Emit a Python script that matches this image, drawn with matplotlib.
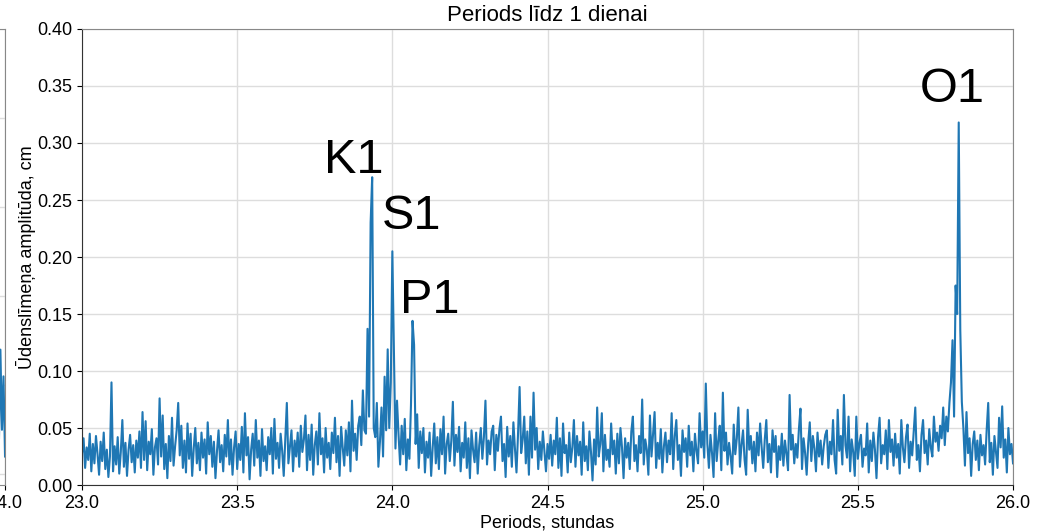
import numpy as np
import matplotlib.pyplot as plt
from matplotlib.ticker import FormatStrFormatter

plt.rcParams['font.family'] = ['Liberation Sans', 'DejaVu Sans']

# amplitūdu spektrs, solis 0.005 h no 23.0 h
amp = [
    0.028, 0.041, 0.015, 0.033, 0.022, 0.045, 0.012, 0.036, 0.019, 0.043, 0.027, 0.009, 0.038, 0.021, 0.046, 0.014, 0.031, 0.007, 0.025, 0.090,
    0.012, 0.034, 0.018, 0.042, 0.010, 0.029, 0.057, 0.016, 0.037, 0.008, 0.031, 0.044, 0.020, 0.035, 0.011, 0.039, 0.024, 0.047, 0.015, 0.064,
    0.022, 0.056, 0.013, 0.038, 0.027, 0.049, 0.009, 0.033, 0.041, 0.018, 0.076, 0.025, 0.061, 0.014, 0.036, 0.006, 0.043, 0.021, 0.059, 0.017,
    0.034, 0.048, 0.072, 0.026, 0.052, 0.015, 0.039, 0.011, 0.054, 0.023, 0.045, 0.008, 0.032, 0.050, 0.019, 0.037, 0.013, 0.046, 0.024, 0.040,
    0.010, 0.055, 0.027, 0.043, 0.016, 0.038, 0.006, 0.030, 0.048, 0.020, 0.035, 0.012, 0.044, 0.025, 0.057, 0.018, 0.040, 0.009, 0.033, 0.047,
    0.014, 0.036, 0.022, 0.051, 0.011, 0.063, 0.026, 0.042, 0.005, 0.031, 0.045, 0.017, 0.057, 0.024, 0.039, 0.008, 0.049, 0.021, 0.034, 0.013,
    0.042, 0.027, 0.050, 0.010, 0.058, 0.023, 0.037, 0.015, 0.045, 0.030, 0.008, 0.041, 0.072, 0.019, 0.034, 0.048, 0.012, 0.039, 0.025, 0.046,
    0.016, 0.052, 0.029, 0.040, 0.061, 0.013, 0.044, 0.022, 0.053, 0.009, 0.035, 0.047, 0.018, 0.063, 0.027, 0.041, 0.011, 0.050, 0.024, 0.037,
    0.014, 0.046, 0.028, 0.059, 0.020, 0.043, 0.008, 0.051, 0.033, 0.017, 0.048, 0.026, 0.055, 0.012, 0.074, 0.030, 0.045, 0.022, 0.052, 0.060,
    0.035, 0.083, 0.048, 0.045, 0.137, 0.060, 0.230, 0.270, 0.050, 0.042, 0.072, 0.016, 0.038, 0.068, 0.025, 0.095, 0.048, 0.119, 0.050, 0.090,
    0.205, 0.120, 0.032, 0.074, 0.044, 0.018, 0.052, 0.027, 0.058, 0.013, 0.040, 0.023, 0.070, 0.144, 0.123, 0.036, 0.062, 0.015, 0.047, 0.028,
    0.050, 0.011, 0.038, 0.024, 0.046, 0.008, 0.033, 0.054, 0.019, 0.042, 0.014, 0.049, 0.027, 0.060, 0.010, 0.036, 0.045, 0.021, 0.039, 0.073,
    0.017, 0.044, 0.029, 0.051, 0.012, 0.037, 0.024, 0.055, 0.015, 0.041, 0.006, 0.048, 0.031, 0.020, 0.046, 0.010, 0.035, 0.050, 0.023, 0.042,
    0.074, 0.018, 0.039, 0.027, 0.047, 0.052, 0.013, 0.044, 0.030, 0.049, 0.060, 0.021, 0.036, 0.007, 0.051, 0.025, 0.043, 0.016, 0.055, 0.032,
    0.011, 0.045, 0.086, 0.028, 0.040, 0.060, 0.019, 0.047, 0.009, 0.060, 0.024, 0.081, 0.031, 0.050, 0.014, 0.038, 0.022, 0.047, 0.030, 0.012,
    0.036, 0.023, 0.044, 0.017, 0.039, 0.027, 0.059, 0.015, 0.041, 0.008, 0.054, 0.028, 0.035, 0.011, 0.046, 0.020, 0.033, 0.057, 0.016, 0.043,
    0.026, 0.038, 0.009, 0.055, 0.021, 0.034, 0.013, 0.047, 0.029, 0.004, 0.040, 0.018, 0.068, 0.025, 0.036, 0.063, 0.012, 0.044, 0.022, 0.031,
    0.016, 0.054, 0.027, 0.039, 0.010, 0.045, 0.019, 0.050, 0.033, 0.006, 0.041, 0.024, 0.037, 0.014, 0.047, 0.060, 0.021, 0.035, 0.012, 0.043,
    0.028, 0.075, 0.018, 0.040, 0.031, 0.009, 0.061, 0.025, 0.044, 0.064, 0.015, 0.037, 0.023, 0.049, 0.011, 0.034, 0.046, 0.020, 0.039, 0.027,
    0.063, 0.014, 0.043, 0.057, 0.022, 0.035, 0.008, 0.048, 0.029, 0.041, 0.016, 0.052, 0.026, 0.038, 0.012, 0.045, 0.030, 0.019, 0.063, 0.033,
    0.047, 0.024, 0.089, 0.036, 0.015, 0.044, 0.028, 0.007, 0.063, 0.021, 0.039, 0.052, 0.013, 0.081, 0.030, 0.046, 0.018, 0.037, 0.025, 0.010,
    0.053, 0.027, 0.041, 0.068, 0.016, 0.035, 0.048, 0.022, 0.009, 0.066, 0.031, 0.043, 0.019, 0.038, 0.012, 0.046, 0.026, 0.054, 0.033, 0.015,
    0.040, 0.057, 0.020, 0.036, 0.011, 0.048, 0.029, 0.043, 0.007, 0.034, 0.022, 0.045, 0.017, 0.039, 0.027, 0.013, 0.079, 0.031, 0.044, 0.019,
    0.036, 0.024, 0.049, 0.067, 0.014, 0.041, 0.028, 0.009, 0.037, 0.055, 0.021, 0.043, 0.032, 0.012, 0.046, 0.025, 0.039, 0.018, 0.034, 0.044,
    0.048, 0.015, 0.038, 0.027, 0.057, 0.022, 0.010, 0.066, 0.030, 0.043, 0.018, 0.079, 0.035, 0.024, 0.060, 0.012, 0.040, 0.029, 0.008, 0.060,
    0.023, 0.037, 0.044, 0.016, 0.032, 0.026, 0.054, 0.011, 0.039, 0.021, 0.046, 0.031, 0.006, 0.042, 0.059, 0.019, 0.035, 0.027, 0.048, 0.014,
    0.057, 0.029, 0.040, 0.017, 0.045, 0.024, 0.036, 0.010, 0.057, 0.033, 0.020, 0.042, 0.053, 0.015, 0.038, 0.026, 0.047, 0.068, 0.022, 0.035,
    0.012, 0.044, 0.057, 0.028, 0.039, 0.018, 0.049, 0.033, 0.025, 0.060, 0.038, 0.046, 0.030, 0.052, 0.041, 0.068, 0.035, 0.060, 0.047, 0.072,
    0.090, 0.127, 0.060, 0.175, 0.150, 0.318, 0.136, 0.073, 0.050, 0.017, 0.064, 0.028, 0.041, 0.008, 0.036, 0.047, 0.022, 0.039, 0.013, 0.044,
    0.026, 0.035, 0.018, 0.048, 0.072, 0.020, 0.037, 0.009, 0.043, 0.029, 0.015, 0.059, 0.033, 0.069, 0.024, 0.040, 0.011, 0.050, 0.027, 0.036,
    0.019,
]
periods = 23.0 + 0.005 * np.arange(len(amp))

# kreisā (nogrieztā) grafika gals
left_periods = [23.950, 23.955, 23.960, 23.965, 23.970, 23.975, 23.980, 23.985, 23.990, 23.995, 24.000]
left_amp = [0.03, 0.05, 0.02, 0.06, 0.04, 0.09, 0.03, 0.14, 0.05, 0.11, 0.02]

# viļņu nosaukumi
labels = ['K1', 'S1', 'P1', 'O1']
label_x = [23.78, 23.965, 24.025, 25.70]
label_y = [0.274, 0.225, 0.151, 0.336]

fig = plt.figure(figsize=(10.5, 5.31), dpi=100)

# kreisais grafiks (redzama tikai mala)
ax0 = fig.add_axes([-0.88, 0.0866, 0.8848, 0.8588])
ax0.plot(left_periods, left_amp, color='#1f77b4', lw=1.5)
ax0.set_xlim(21.0, 24.0)
ax0.set_ylim(-0.012, 0.5)
ax0.set_xticks([22.0, 23.0, 24.0])
ax0.xaxis.set_major_formatter(FormatStrFormatter('%.1f'))
ax0.set_yticks([0.0, 0.1, 0.2, 0.3, 0.4, 0.5])
ax0.tick_params(labelsize=13)
ax0.grid(True, color='#dddddd', lw=1.0)
for s in ax0.spines.values():
    s.set_color('#888888')

ax = fig.add_axes([0.0781, 0.0866, 0.8867, 0.8588])
ax.plot(periods, amp, color='#1f77b4', lw=1.5)
ax.set_xlim(23.0, 26.0)
ax.set_ylim(0.0, 0.40)
ax.set_xticks(np.arange(23.0, 26.01, 0.5))
ax.set_yticks(np.arange(0.0, 0.401, 0.05))
ax.tick_params(labelsize=13)
ax.grid(True, color='#dddddd', lw=1.0)
ax.spines['left'].set_color('#333333')
ax.spines['bottom'].set_color('#333333')
ax.spines['top'].set_color('#888888')
ax.spines['right'].set_color('#888888')

for t, x, y in zip(labels, label_x, label_y):
    ax.text(x, y, t, fontsize=35, ha='left', va='baseline')

ax.set_title('Periods līdz 1 dienai', fontsize=16)
ax.set_xlabel('Periods, stundas', fontsize=13, labelpad=2)
ax.set_ylabel('Ūdenslīmeņa amplitūda, cm', fontsize=13, labelpad=1)

fig.savefig('out.png', dpi=100)
